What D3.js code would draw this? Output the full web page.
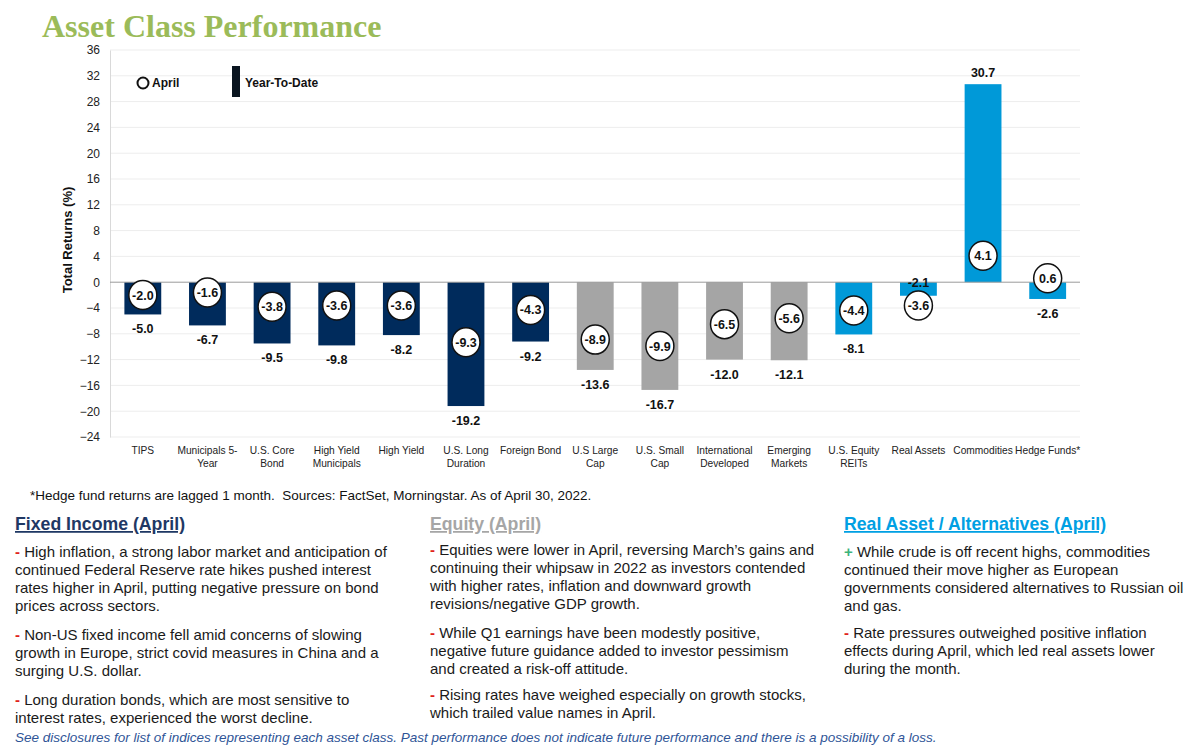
<!DOCTYPE html>
<html><head><meta charset="utf-8">
<script src="https://cdn.jsdelivr.net/npm/d3@7/dist/d3.min.js"></script>
<style>body{margin:0;background:#fff;}svg{display:block;font-family:"Liberation Sans",Arial,sans-serif;}</style>
</head><body><svg id="c" width="1200" height="754"></svg>
<script>
const categories = ["TIPS","Municipals 5-|Year","U.S. Core|Bond","High Yield|Municipals","High Yield","U.S. Long|Duration","Foreign Bond","U.S Large|Cap","U.S. Small|Cap","International|Developed","Emerging|Markets","U.S. Equity|REITs","Real Assets","Commodities","Hedge Funds*"];
const groups = ["fixed","fixed","fixed","fixed","fixed","fixed","fixed","equity","equity","equity","equity","real","real","real","real"];
const ytdValues = [-5.0,-6.7,-9.5,-9.8,-8.2,-19.2,-9.2,-13.6,-16.7,-12.0,-12.1,-8.1,-2.1,30.7,-2.6];
const aprilValues = [-2.0,-1.6,-3.8,-3.6,-3.6,-9.3,-4.3,-8.9,-9.9,-6.5,-5.6,-4.4,-3.6,4.1,0.6];
const yTicks = [36,32,28,24,20,16,12,8,4,0,-4,-8,-12,-16,-20,-24];
const groupColors = {fixed:"#002B5C", equity:"#A5A5A5", real:"#0099D8"};

const svg = d3.select("#c");
const x = d3.scaleBand().domain(d3.range(categories.length)).range([110.5,1080]).paddingInner(0.43).paddingOuter(0.215);
const y = d3.scaleLinear().domain([-24,36]).range([437,50]);

// title
svg.append("text").attr("x",42).attr("y",37).attr("font-family","'Liberation Serif','DejaVu Serif',serif")
  .attr("font-weight","bold").attr("font-size",32).attr("fill","#9BBB59").text("Asset Class Performance");

// grid
svg.append("g").selectAll("line").data(yTicks.filter(t=>t!==0)).join("line")
  .attr("x1",110).attr("x2",1080).attr("y1",d=>y(d)).attr("y2",d=>y(d)).attr("stroke","#EDEDED").attr("stroke-width",1);

// y axis
const yAxis = d3.axisLeft(y).tickValues(yTicks).tickSize(0).tickPadding(10).tickFormat(d3.format("d"));
const ga = svg.append("g").attr("transform","translate(110,0)").call(yAxis);
ga.select(".domain").attr("stroke","#D9D9D9");
ga.selectAll("text").attr("font-size",12).attr("fill","#222").attr("font-family","'Liberation Sans',Arial,sans-serif");

svg.append("text").attr("transform","translate(72,240) rotate(-90)").attr("text-anchor","middle")
  .attr("font-weight","bold").attr("font-size",13).attr("fill","#111").text("Total Returns (%)");

// bars
svg.append("g").selectAll("rect").data(ytdValues).join("rect")
  .attr("x",(d,i)=>x(i)).attr("width",x.bandwidth())
  .attr("y",d=>y(Math.max(0,d))).attr("height",d=>Math.abs(y(d)-y(0)))
  .attr("fill",(d,i)=>groupColors[groups[i]]);

// zero line
svg.append("line").attr("x1",110).attr("x2",1080).attr("y1",y(0)).attr("y2",y(0)).attr("stroke","#9A9A9A").attr("stroke-width",1);

// ytd labels
const cx = i => x(i)+x.bandwidth()/2;
svg.append("g").selectAll("text").data(ytdValues).join("text")
  .attr("x",(d,i)=>cx(i)).attr("text-anchor","middle").attr("font-weight","bold").attr("font-size",12.5).attr("fill","#111")
  .attr("y",(d,i)=>{
    if(d>=0) return y(d)-7;
    const def = y(d)+15;
    const cy = y(aprilValues[i]);
    if(Math.abs(def-cy)<20) return y(d)-9;
    return def+4;
  })
  .text(d=>d.toFixed(1));

// april circles
const gc = svg.append("g").selectAll("g").data(aprilValues).join("g")
  .attr("transform",(d,i)=>`translate(${cx(i)},${y(d)})`);
gc.append("ellipse").attr("rx",14).attr("ry",14.5).attr("fill","#fff").attr("stroke","#111").attr("stroke-width",1.5);
gc.append("text").attr("text-anchor","middle").attr("dy","0.36em").attr("font-weight","bold").attr("font-size",12.5).attr("fill","#111")
  .text(d=>d.toFixed(1));

// category labels
const gl = svg.append("g").selectAll("text").data(categories).join("text")
  .attr("text-anchor","middle").attr("font-size",10.2).attr("fill","#222").attr("transform",(d,i)=>`translate(${cx(i)},454)`);
gl.selectAll("tspan").data(d=>d.split("|")).join("tspan").attr("x",0).attr("dy",(d,j)=>j===0?0:13).text(d=>d);

// legend
svg.append("circle").attr("cx",143).attr("cy",83).attr("r",5.5).attr("fill","#fff").attr("stroke","#111").attr("stroke-width",2);
svg.append("text").attr("x",152).attr("y",87).attr("font-weight","bold").attr("font-size",12).attr("fill","#111").text("April");
svg.append("rect").attr("x",232).attr("y",66).attr("width",8).attr("height",31).attr("fill","#0A1520");
svg.append("text").attr("x",245).attr("y",87).attr("font-weight","bold").attr("font-size",12).attr("fill","#111").text("Year-To-Date");

// footnote
svg.append("text").attr("x",30).attr("y",500).attr("font-size",13.5).attr("fill","#111")
  .attr("xml:space","preserve").text("*Hedge fund returns are lagged 1 month.  Sources: FactSet, Morningstar. As of April 30, 2022.");

// commentary
const sections = [
 {x:15, title:"Fixed Income (April)", color:"#1F3864", paras:[
   {m:"-",mc:"#E0221B",lines:[" High inflation, a strong labor market and anticipation of","continued Federal Reserve rate hikes pushed interest","rates higher in April, putting negative pressure on bond","prices across sectors."],y:557},
   {m:"-",mc:"#E0221B",lines:[" Non-US fixed income fell amid concerns of slowing","growth in Europe, strict covid measures in China and a","surging U.S. dollar."],y:640},
   {m:"-",mc:"#E0221B",lines:[" Long duration bonds, which are most sensitive to","interest rates, experienced the worst decline."],y:705}]},
 {x:430, title:"Equity (April)", color:"#A6A6A6", paras:[
   {m:"-",mc:"#E0221B",lines:[" Equities were lower in April, reversing March\u2019s gains and","continuing their whipsaw in 2022 as investors contended","with higher rates, inflation and downward growth","revisions/negative GDP growth."],y:555},
   {m:"-",mc:"#E0221B",lines:[" While Q1 earnings have been modestly positive,","negative future guidance added to investor pessimism","and created a risk-off attitude."],y:638},
   {m:"-",mc:"#E0221B",lines:[" Rising rates have weighed especially on growth stocks,","which trailed value names in April."],y:700}]},
 {x:844, title:"Real Asset / Alternatives (April)", color:"#00A0E3", paras:[
   {m:"+",mc:"#3DB37A",lines:[" While crude is off recent highs, commodities","continued their move higher as European","governments considered alternatives to Russian oil","and gas."],y:557},
   {m:"-",mc:"#E0221B",lines:[" Rate pressures outweighed positive inflation","effects during April, which led real assets lower","during the month."],y:638}]}
];
sections.forEach(s=>{
  svg.append("text").attr("x",s.x).attr("y",530).attr("font-weight","bold").attr("font-size",17.7)
    .attr("fill",s.color).attr("text-decoration","underline").text(s.title);
  s.paras.forEach(p=>{
    const t = svg.append("text").attr("x",s.x).attr("y",p.y).attr("font-size",15).attr("fill","#1a1a1a").attr("xml:space","preserve");
    p.lines.forEach((ln,j)=>{
      if(j===0){
        t.append("tspan").attr("x",s.x).attr("dy",0).attr("fill",p.mc).attr("font-weight","bold").text(p.m);
        t.append("tspan").text(ln);
      } else {
        t.append("tspan").attr("x",s.x).attr("dy",18).text(ln);
      }
    });
  });
});

svg.append("text").attr("x",15).attr("y",742).attr("font-size",13.5).attr("font-style","italic").attr("fill","#2F5597")
  .text("See disclosures for list of indices representing each asset class. Past performance does not indicate future performance and there is a possibility of a loss.");
</script></body></html>
